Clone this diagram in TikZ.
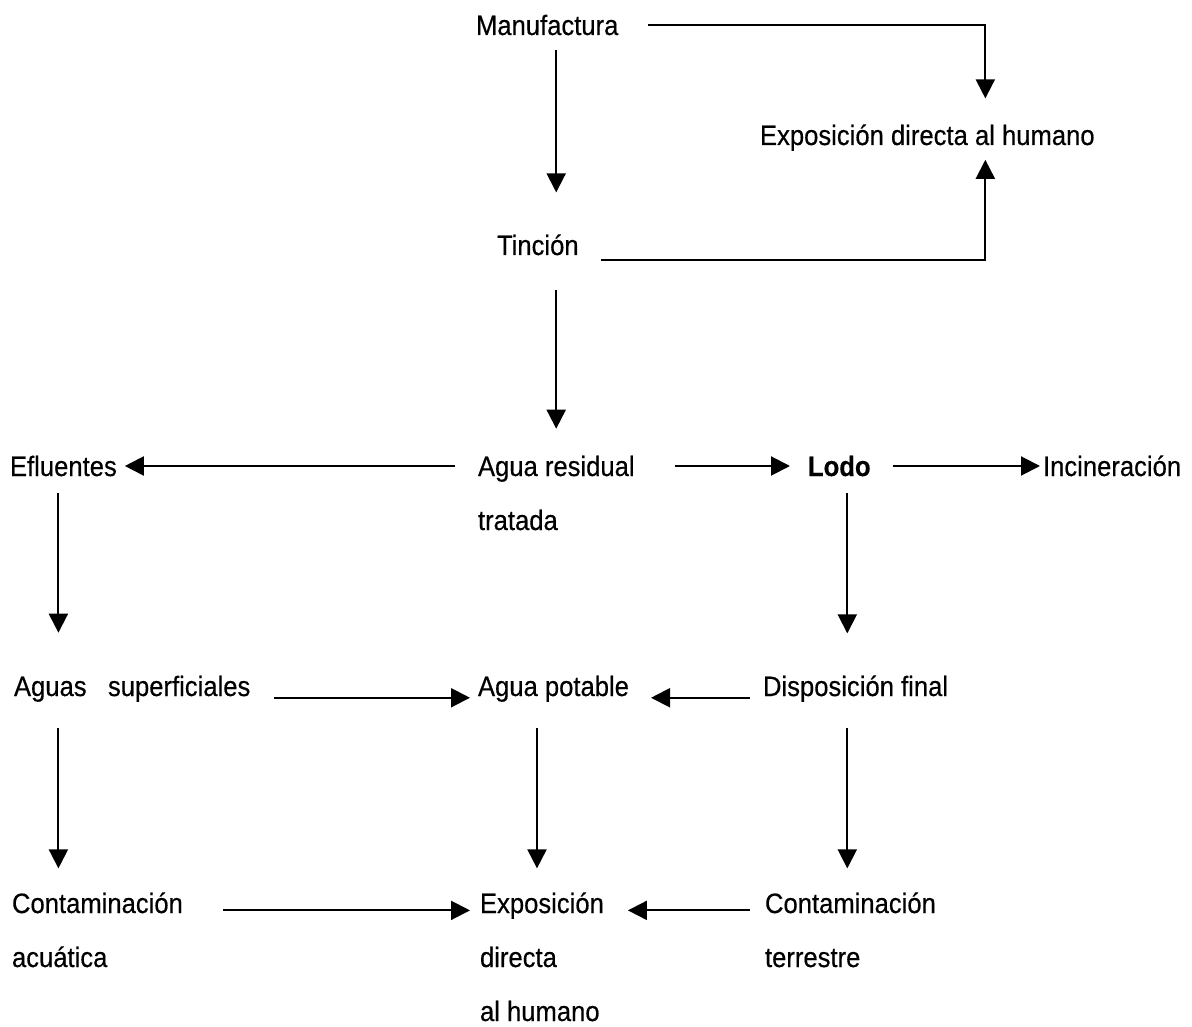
\documentclass[tikz,border=0pt]{standalone}
\usepackage{fontspec}
\setmainfont{Liberation Sans}[FakeStretch=0.915, FakeBold=0.4]
\usetikzlibrary{arrows.meta}

\tikzset{
  lbl/.style={anchor=base west, inner sep=0pt, outer sep=0pt,
              font=\fontsize{28}{54}\selectfont, align=left},
  arr/.style={line width=2pt, -{Triangle[length=19pt,width=19pt]}},
  ln/.style={line width=2pt}
}

\begin{document}
\begin{tikzpicture}[x=1pt, y=-1pt]
  \fill[white] (0,0) rectangle (1192,1027);
  \useasboundingbox (0,0) rectangle (1192,1027);

  % labels (multi-line labels are placed by the baseline of their last line)
  \node[lbl] (manu)  at (476,35)  {Manufactura};
  \node[lbl] (expo)  at (760,145) {Exposición directa al humano};
  \node[lbl] (tinc)  at (497,255) {Tinción};
  \node[lbl] (eflu)  at (10,476)  {Efluentes};
  \node[lbl] (agua)  at (478,530) {Agua residual\\tratada};
  \node[lbl, font=\fontsize{28}{54}\selectfont\bfseries] (lodo) at (808,476) {Lodo};
  \node[lbl] (inci)  at (1043,476) {Incineración};
  \node[lbl] (aguas) at (14,696)  {Aguas\ \ \ superficiales};
  \node[lbl] (pota)  at (478,696) {Agua potable};
  \node[lbl] (disp)  at (763,696) {Disposición final};
  \node[lbl] (cacu)  at (12,967)  {Contaminación\\acuática};
  \node[lbl] (expb)  at (480,1021) {Exposición\\directa\\al humano};
  \node[lbl] (cter)  at (765,967) {Contaminación\\terrestre};

  % upper branch towards direct human exposure
  \draw[arr, shorten <=30pt, shorten >=26pt] (manu.east) -| ([xshift=58pt]expo.north);
  \draw[arr, shorten <=22pt, shorten >=9pt] ([yshift=-5pt]tinc.south east) -| ([xshift=58pt]expo.south);

  % main vertical chain
  \draw[arr, shorten <=15pt, shorten >=42pt] ([xshift=9pt]manu.south) -- ([xshift=9pt]manu.south |- tinc.north);
  \draw[arr, shorten <=35pt, shorten >=27pt] ([xshift=9pt]manu.south |- tinc.south) -- ([xshift=9pt]manu.south |- agua.north);

  % treated wastewater row
  \draw[arr, shorten <=23pt, shorten >=8pt] (eflu.east -| agua.west) -- (eflu.east);
  \draw[arr, shorten <=40pt, shorten >=18pt] (lodo.west -| agua.east) -- (lodo.west);
  \draw[arr, shorten <=22pt, shorten >=3pt] (lodo.east) -- (lodo.east -| inci.west);

  % down to the middle row
  \draw[arr, shorten <=17pt, shorten >=43pt] ([xshift=-5pt]eflu.south) -- ([xshift=-5pt]eflu.south |- aguas.north);
  \draw[arr, shorten <=17pt, shorten >=42pt] ([xshift=8pt]lodo.south) -- ([xshift=8pt]lodo.south |- disp.north);

  % middle row
  \draw[arr, shorten <=24pt, shorten >=8pt] ([yshift=-9pt]aguas.east) -- ([yshift=-9pt]aguas.east -| pota.west);
  \draw[arr, shorten <=13pt, shorten >=22pt] ([yshift=-9pt]pota.east -| disp.west) -- ([yshift=-9pt]pota.east);

  % down to the bottom row
  \draw[arr, shorten <=26pt, shorten >=24pt] ([xshift=-5pt]eflu.south |- aguas.south) -- ([xshift=-5pt]eflu.south |- cacu.north);
  \draw[arr, shorten <=26pt, shorten >=24pt] ([xshift=59pt]pota.south west) -- ([xshift=59pt]pota.south west |- expb.north);
  \draw[arr, shorten <=26pt, shorten >=24pt] ([xshift=8pt]lodo.south |- disp.south) -- ([xshift=8pt]lodo.south |- cter.north);

  % bottom row
  \draw[arr, shorten <=40pt, shorten >=10pt] ([yshift=-18pt]cacu.north east) -- ([yshift=-18pt]cacu.north east -| expb.west);
  \draw[arr, shorten <=15pt, shorten >=24pt] ([yshift=-18pt]cter.north west) -- ([yshift=-18pt]cter.north west -| expb.east);
\end{tikzpicture}
\end{document}
